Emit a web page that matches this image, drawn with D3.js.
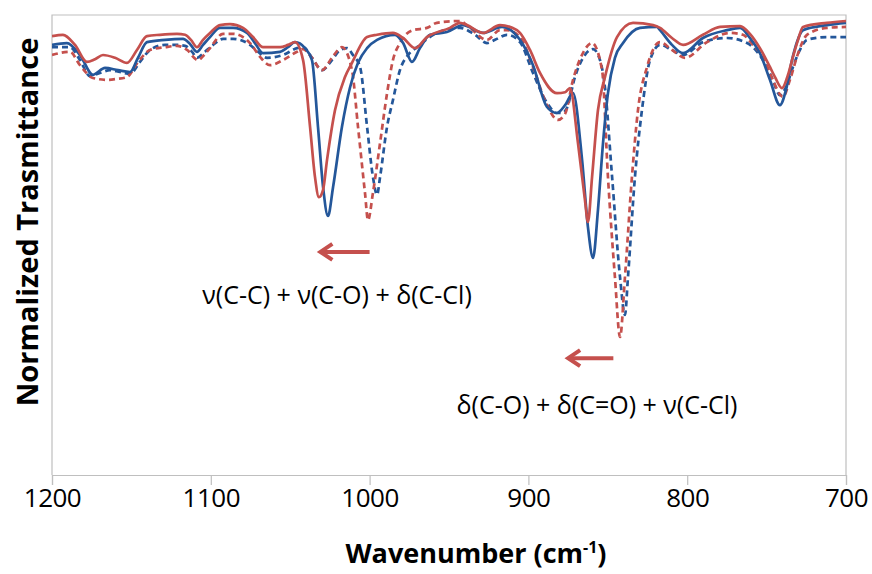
<!DOCTYPE html>
<html>
<head>
<meta charset="utf-8">
<script src="https://cdn.jsdelivr.net/npm/d3@7"></script>
<style>
  html, body { margin: 0; padding: 0; background: #fff; }
  svg { display: block; }
</style>
</head>
<body>
<svg id="chart" width="872" height="574"></svg>
<script>
// ---- Data: [wavenumber (cm-1), normalized transmittance (%)] ----
const blueSolid = [
  [1200,93.5],[1190.6,93.9],[1182.4,91.3],[1174.2,87.0],[1166.6,88.5],[1158.4,88.0],[1150.9,87.6],
  [1145.8,90.7],[1140.2,94.1],[1128.8,94.6],[1117.5,94.8],[1113.1,93.7],[1108.7,92.0],[1104.9,93.5],
  [1100.5,95.2],[1094.2,97.2],[1086.0,97.2],[1077.2,96.1],[1072.2,93.9],[1067.1,91.7],[1056.4,92.0],
  [1051.4,93.0],[1047.0,94.1],[1040.7,92.8],[1036.3,90.2],[1032.5,75.7],[1029.3,62.6],[1026.2,56.3],
  [1023.0,62.6],[1017.4,75.7],[1012.3,84.3],[1007.3,89.6],[1001.6,92.8],[995.3,94.6],[984.0,95.7],
  [978.9,93.9],[973.3,89.8],[968.3,92.8],[962.0,95.7],[951.3,96.3],[941.2,97.8],[928.6,96.1],
  [916.6,97.4],[905.3,94.6],[897.1,89.1],[888.3,80.0],[882.0,78.7],[876.9,80.4],[871.9,83.0],
  [866.2,68.5],[862.5,53.9],[859.3,47.2],[856.2,57.6],[853.0,72.2],[849.9,83.0],[845.5,90.7],
  [840.4,93.9],[829.7,97.2],[819.0,97.4],[817.1,96.7],[809.6,93.5],[802.6,91.7],[790.1,95.0],
  [774.9,96.7],[766.7,97.2],[760.5,95.0],[754.2,91.7],[747.9,85.9],[741.6,80.4],[737.8,83.7],
  [734.0,90.2],[730.9,94.1],[727.1,96.7],[712.0,97.8],[700,98.3]
];
const blueDashed = [
  [1200,93.0],[1188.7,93.0],[1182.4,90.2],[1176.1,86.7],[1169.8,87.4],[1163.5,88.0],[1157.2,87.6],
  [1150.9,87.2],[1144.6,89.8],[1138.3,92.4],[1128.8,93.5],[1121.3,93.5],[1116.2,93.3],[1111.8,92.0],
  [1108.7,90.7],[1103.7,92.0],[1099.2,93.3],[1092.3,94.8],[1086.0,94.8],[1075.3,93.5],[1070.3,92.0],
  [1064.6,90.7],[1054.5,91.3],[1045.7,92.8],[1041.9,93.0],[1036.3,90.7],[1030.0,88.0],[1023.7,90.2],
  [1018.6,92.4],[1014.2,92.8],[1010.5,91.3],[1006.0,88.7],[1001.6,75.7],[997.9,64.8],[995.3,60.9],
  [993.4,64.8],[989.0,75.7],[985.3,81.5],[980.9,88.0],[975.8,91.3],[970.2,93.0],[957.6,96.1],
  [943.1,97.2],[933.6,95.7],[926.1,93.9],[921.0,94.6],[913.5,95.7],[905.3,94.1],[897.1,87.4],
  [888.3,80.9],[882.0,78.7],[878.8,78.7],[875.7,79.8],[870.7,86.5],[864.4,91.3],[859.3,92.6],
  [854.9,90.2],[851.8,84.3],[847.3,64.8],[842.3,43.0],[839.2,34.8],[837.3,43.0],[832.9,64.8],
  [828.5,79.3],[823.4,90.2],[817.1,93.5],[809.6,92.4],[802.6,91.3],[790.1,94.1],[774.9,95.0],
  [762.3,93.9],[752.3,90.2],[746.6,86.3],[741.6,82.6],[737.2,84.8],[733.4,88.7],[729.0,92.4],
  [724.6,94.6],[712.0,95.2],[700,95.2]
];
const redSolid = [
  [1200,95.4],[1193.1,95.7],[1185.5,93.5],[1178.0,89.8],[1172.9,90.4],[1167.9,91.3],[1160.3,90.7],
  [1152.8,89.6],[1146.5,92.4],[1140.2,95.4],[1132.0,95.7],[1121.3,95.9],[1116.2,95.7],[1112.5,94.6],
  [1108.7,93.0],[1104.9,94.6],[1100.5,96.1],[1094.2,97.8],[1087.9,98.0],[1079.7,97.2],[1073.4,95.2],
  [1067.1,93.0],[1056.4,93.0],[1051.4,93.5],[1047.0,94.1],[1041.9,90.2],[1037.5,75.7],[1034.4,64.8],
  [1031.9,60.4],[1029.3,62.0],[1026.8,68.5],[1021.8,79.3],[1015.5,86.5],[1011.1,89.6],[1001.6,95.2],
  [995.3,95.7],[985.3,96.1],[978.9,95.0],[971.4,92.8],[963.9,95.2],[949.4,97.2],[943.1,98.3],
  [938.7,97.8],[928.6,96.1],[917.9,97.8],[907.2,96.7],[905.3,96.1],[899.0,92.4],[892.7,87.4],
  [882.0,83.0],[876.9,83.2],[873.8,84.1],[868.8,72.2],[864.4,59.8],[862.5,55.0],[859.9,64.8],
  [856.2,79.3],[851.8,86.5],[844.2,95.2],[834.1,98.3],[821.5,97.8],[817.1,97.2],[809.6,95.0],
  [802.6,93.5],[790.1,95.7],[779.3,97.4],[766.7,97.6],[760.5,95.9],[754.2,92.8],[747.9,88.7],
  [744.7,86.5],[740.3,84.1],[736.5,87.0],[733.4,90.9],[730.2,94.6],[727.1,97.4],[712.0,98.3],[700,98.7]
];
const redDashed = [
  [1200,91.3],[1188.7,92.0],[1182.4,89.1],[1174.2,86.3],[1165.4,85.9],[1159.1,86.1],[1152.8,86.5],
  [1145.8,89.8],[1138.3,92.4],[1128.8,93.0],[1121.3,93.3],[1115.0,92.4],[1108.1,90.2],[1103.7,91.5],
  [1100.5,92.8],[1092.3,95.9],[1086.0,95.9],[1075.3,93.9],[1069.0,90.9],[1062.7,89.1],[1054.5,90.2],
  [1045.7,92.0],[1041.9,92.6],[1036.3,90.7],[1030.0,88.0],[1023.7,90.7],[1017.4,93.0],[1011.1,88.0],
  [1007.3,75.7],[1002.9,61.3],[1001.0,55.4],[997.9,61.3],[993.4,72.2],[989.0,83.0],[985.3,90.2],
  [980.9,93.9],[972.7,96.7],[963.9,97.2],[957.6,98.3],[943.1,98.7],[936.8,97.2],[926.1,94.6],
  [917.9,96.7],[913.5,96.7],[905.3,95.2],[897.1,88.7],[888.3,80.4],[881.4,77.2],[876.9,78.5],
  [871.9,85.9],[866.3,91.3],[859.9,93.9],[853.6,88.0],[849.9,64.8],[845.5,43.0],[842.3,30.0],
  [839.2,43.0],[834.8,64.8],[831.0,79.3],[825.3,88.7],[817.1,94.1],[809.6,92.4],[801.4,90.7],
  [787.5,94.1],[773.0,96.1],[764.9,95.7],[758.6,93.5],[752.3,90.9],[746.6,86.3],[739.7,82.2],
  [735.3,85.9],[730.9,90.9],[727.7,93.9],[724.6,95.7],[712.0,97.2],[700,97.4]
];
const xTicks = [1200, 1100, 1000, 900, 800, 700];
const xTitle = "Wavenumber (cm";
const yTitle = "Normalized Trasmittance";
const annotations = [
  { text: "\u03BD(C-C) + \u03BD(C-O) + \u03B4(C-Cl)", wn: 1020.5, t: 39.1, arrowFrom: 1000, arrowTo: 1031, arrowT: 48.5 },
  { text: "\u03B4(C-O) + \u03B4(C=O) + \u03BD(C-Cl)", wn: 856.8, t: 15.2, arrowFrom: 846.5, arrowTo: 875, arrowT: 25.4 }
];

// ---- Layout ----
const svg = d3.select("#chart");
const m = { left: 52, right: 846, top: 15, bottom: 475 };
const x = d3.scaleLinear().domain([1200, 700]).range([m.left, m.right]);
const y = d3.scaleLinear().domain([0, 100]).range([m.bottom, m.top]);

const BLUE = "#24579a", RED = "#c5504d", GRID = "#bfbfbf";
const fontMain = "'Open Sans', 'DejaVu Sans', sans-serif";

// frame
svg.append("path")
  .attr("d", `M${m.left},${m.bottom}V${m.top}H${m.right}V${m.bottom}`)
  .attr("fill", "none").attr("stroke", GRID).attr("stroke-width", 1.2);

// x axis
const xAxis = svg.append("g").attr("transform", `translate(0,${m.bottom})`)
  .call(d3.axisBottom(x).tickValues(xTicks).tickFormat(d3.format("d")).tickSize(10).tickPadding(4));
xAxis.select(".domain").attr("stroke", GRID).attr("stroke-width", 1.2);
xAxis.selectAll(".tick line").attr("stroke", GRID).attr("stroke-width", 1.2);
xAxis.selectAll(".tick text").attr("fill", "#000").style("font-family", fontMain).style("font-size", "26px")
  .style("letter-spacing", "-0.5px");

// titles
const xt = svg.append("text").attr("x", 476).attr("y", 563)
  .attr("text-anchor", "middle").style("font-family", fontMain).style("font-weight", "700")
  .style("font-size", "27px").attr("fill", "#000");
xt.append("tspan").text(xTitle);
xt.append("tspan").text("-1").attr("dy", -10).style("font-size", "16px");
xt.append("tspan").text(")").attr("dy", 10);

svg.append("text").attr("transform", `translate(38,222) rotate(-90)`)
  .attr("text-anchor", "middle").style("font-family", fontMain).style("font-weight", "700")
  .style("font-size", "29px").attr("fill", "#000").text(yTitle);

// lines
const line = d3.line().x(d => x(d[0])).y(d => y(d[1])).curve(d3.curveMonotoneX);
const series = [
  { data: blueDashed, color: BLUE, dash: "6,4" },
  { data: redDashed, color: RED, dash: "6,4" },
  { data: blueSolid, color: BLUE, dash: null },
  { data: redSolid, color: RED, dash: null }
];
svg.append("clipPath").attr("id", "clip").append("rect")
  .attr("x", m.left).attr("y", m.top - 4).attr("width", m.right - m.left).attr("height", m.bottom - m.top + 4);
svg.append("g").attr("clip-path", "url(#clip)").selectAll("path").data(series).join("path")
  .attr("d", d => line(d.data))
  .attr("fill", "none").attr("stroke", d => d.color).attr("stroke-width", 2.7)
  .attr("stroke-dasharray", d => d.dash).attr("stroke-linejoin", "round");

// annotations
annotations.forEach(a => {
  const x0 = x(a.arrowFrom), x1 = x(a.arrowTo), ya = y(a.arrowT);
  svg.append("line").attr("x1", x0).attr("x2", x1 + 3).attr("y1", ya).attr("y2", ya)
    .attr("stroke", RED).attr("stroke-width", 4);
  svg.append("path").attr("d", `M${x1 + 12},${ya - 8}L${x1},${ya}L${x1 + 12},${ya + 8}`)
    .attr("fill", "none").attr("stroke", RED).attr("stroke-width", 4).attr("stroke-linejoin", "miter");
  svg.append("text").attr("x", x(a.wn)).attr("y", y(a.t)).attr("dy", "0.35em")
    .attr("text-anchor", "middle").style("font-family", fontMain).style("font-size", "25px")
    .attr("fill", "#000").text(a.text);
});
</script>
</body>
</html>
